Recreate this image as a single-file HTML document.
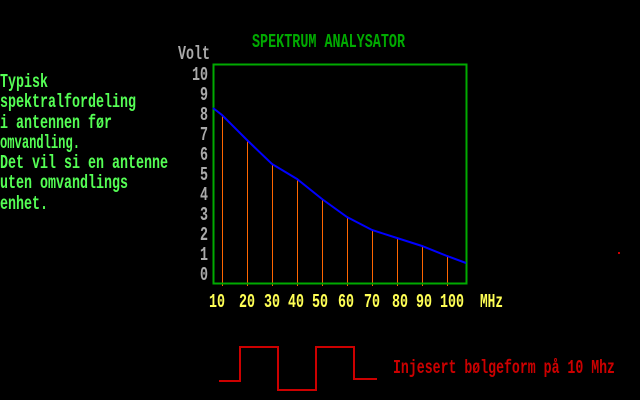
<!DOCTYPE html>
<html><head><meta charset="utf-8"><style>
html,body{margin:0;padding:0;background:#000;width:640px;height:400px;overflow:hidden}
svg text{font-family:"Liberation Mono",monospace;font-size:19px;font-weight:bold}
</style></head><body>
<svg width="640" height="400" viewBox="0 0 640 400" xmlns="http://www.w3.org/2000/svg">
<rect width="640" height="400" fill="#000"/>
<text x="252" y="47" fill="#00aa00" textLength="153" lengthAdjust="spacingAndGlyphs">SPEKTRUM ANALYSATOR</text>
<text x="178" y="59" fill="#aaaaaa" textLength="32" lengthAdjust="spacingAndGlyphs">Volt</text>
<g fill="#aaaaaa">
<text x="192" y="80" textLength="16" lengthAdjust="spacingAndGlyphs">10</text>
<text x="200" y="100" textLength="8" lengthAdjust="spacingAndGlyphs">9</text>
<text x="200" y="120" textLength="8" lengthAdjust="spacingAndGlyphs">8</text>
<text x="200" y="140" textLength="8" lengthAdjust="spacingAndGlyphs">7</text>
<text x="200" y="160" textLength="8" lengthAdjust="spacingAndGlyphs">6</text>
<text x="200" y="180" textLength="8" lengthAdjust="spacingAndGlyphs">5</text>
<text x="200" y="200" textLength="8" lengthAdjust="spacingAndGlyphs">4</text>
<text x="200" y="220" textLength="8" lengthAdjust="spacingAndGlyphs">3</text>
<text x="200" y="240" textLength="8" lengthAdjust="spacingAndGlyphs">2</text>
<text x="200" y="260" textLength="8" lengthAdjust="spacingAndGlyphs">1</text>
<text x="200" y="280" textLength="8" lengthAdjust="spacingAndGlyphs">0</text>
</g>
<g fill="#55ff55">
<text x="0" y="87" textLength="48" lengthAdjust="spacingAndGlyphs">Typisk</text>
<text x="0" y="107" textLength="136" lengthAdjust="spacingAndGlyphs">spektralfordeling</text>
<text x="0" y="128" textLength="112" lengthAdjust="spacingAndGlyphs">i antennen før</text>
<text x="0" y="148" textLength="80" lengthAdjust="spacingAndGlyphs">omvandling.</text>
<text x="0" y="168" textLength="168" lengthAdjust="spacingAndGlyphs">Det vil si en antenne</text>
<text x="0" y="188" textLength="128" lengthAdjust="spacingAndGlyphs">uten omvandlings</text>
<text x="0" y="209" textLength="48" lengthAdjust="spacingAndGlyphs">enhet.</text>
</g>
<g stroke="#ff6600" stroke-width="1">
<line x1="222.5" y1="116" x2="222.5" y2="286"/>
<line x1="247.5" y1="141" x2="247.5" y2="286"/>
<line x1="272.5" y1="165" x2="272.5" y2="286"/>
<line x1="297.5" y1="180" x2="297.5" y2="286"/>
<line x1="322.5" y1="200" x2="322.5" y2="286"/>
<line x1="347.5" y1="218" x2="347.5" y2="286"/>
<line x1="372.5" y1="231" x2="372.5" y2="286"/>
<line x1="397.5" y1="239" x2="397.5" y2="286"/>
<line x1="422.5" y1="247" x2="422.5" y2="286"/>
<line x1="447.5" y1="257" x2="447.5" y2="286"/>
</g>
<rect x="213.5" y="64.5" width="253" height="219" fill="none" stroke="#00aa00" stroke-width="2"/>
<polyline fill="none" stroke="#0000ff" stroke-width="2" points="213,108 222,115 247,140 272,164 297,179 322,199 347,217 372,230 397,238 422,246 447,256 466,263"/>
<g fill="#ffff55">
<text x="209" y="307" textLength="16" lengthAdjust="spacingAndGlyphs">10</text>
<text x="239" y="307" textLength="16" lengthAdjust="spacingAndGlyphs">20</text>
<text x="264" y="307" textLength="16" lengthAdjust="spacingAndGlyphs">30</text>
<text x="288" y="307" textLength="16" lengthAdjust="spacingAndGlyphs">40</text>
<text x="312" y="307" textLength="16" lengthAdjust="spacingAndGlyphs">50</text>
<text x="338" y="307" textLength="16" lengthAdjust="spacingAndGlyphs">60</text>
<text x="364" y="307" textLength="16" lengthAdjust="spacingAndGlyphs">70</text>
<text x="392" y="307" textLength="16" lengthAdjust="spacingAndGlyphs">80</text>
<text x="416" y="307" textLength="16" lengthAdjust="spacingAndGlyphs">90</text>
<text x="440" y="307" textLength="24" lengthAdjust="spacingAndGlyphs">100</text>
<text x="480" y="307" textLength="23" lengthAdjust="spacingAndGlyphs">MHz</text>
</g>
<polyline fill="none" stroke="#cc0000" stroke-width="2" points="219,381 240,381 240,347 278,347 278,390 316,390 316,347 354,347 354,379 377,379"/>
<text x="393" y="373" fill="#cc0000" textLength="222" lengthAdjust="spacingAndGlyphs">Injesert bølgeform på 10 Mhz</text>
<rect x="618" y="252" width="2" height="2" fill="#cc0000"/>
</svg>
</body></html>
